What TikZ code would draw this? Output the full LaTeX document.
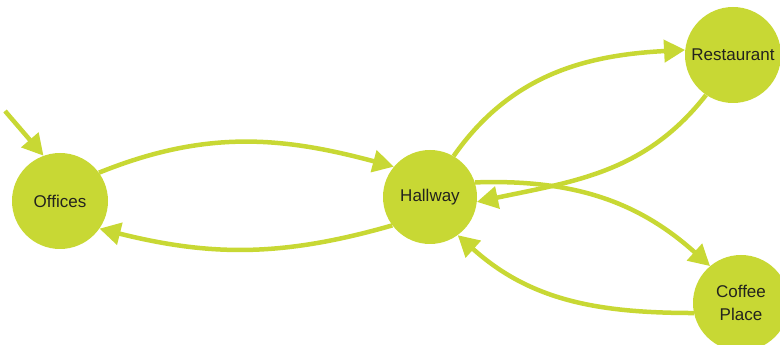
\documentclass[tikz,border=0pt]{standalone}
\usepackage{fontspec}
\setmainfont{Liberation Sans}
\usetikzlibrary{arrows.meta}
\definecolor{lime}{RGB}{200,216,52}
\definecolor{txt}{RGB}{35,35,30}
\tikzset{
  state/.style={circle, fill=lime, draw=none, minimum size=96pt, inner sep=0pt,
    text=txt, font=\fontsize{17}{23}\selectfont, align=center},
  trans/.style={draw=lime, line width=4.5pt, -{Triangle[length=21pt,width=22pt]}}
}
\begin{document}
\begin{tikzpicture}[x=1pt,y=1pt]
\useasboundingbox (0,0) rectangle (780,345);
\node[state] (off) at (60,144) {Offices};
\node[state, minimum size=94pt] (hall) at (430,148) {Hallway};
\node[state] (rest) at (733,290) {Restaurant};
\node[state] (cof) at (741,42) {Coffee\\Place};
\coordinate (init) at (5,234);
\draw[trans] (init) -- (off.110);
\draw[trans] (off.36) to[out=22,in=165] (hall.140);
\draw[trans] (hall.217) to[out=196,in=-14] (off.325);
\draw[trans] (hall.60) to[out=55,in=183] (rest.174);
\draw[trans] (rest.236) to[out=232,in=12] (hall.-6);
\draw[trans] (hall.18) to[out=2,in=138] (cof.130);
\draw[trans] (cof.192) to[out=180,in=-42] (hall.-54);
\end{tikzpicture}
\end{document}
